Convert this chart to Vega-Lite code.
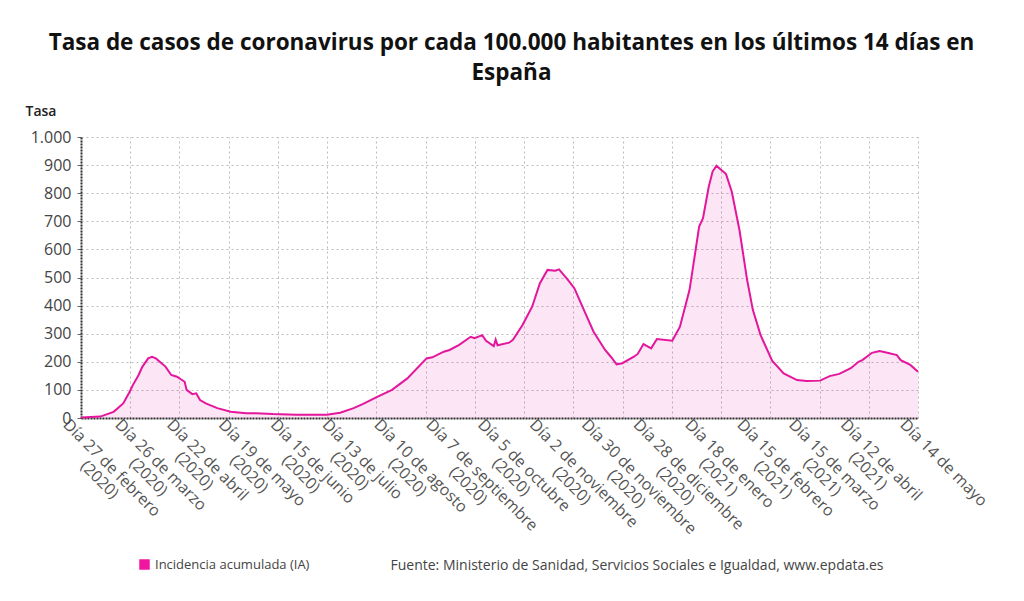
{
  "$schema": "https://vega.github.io/schema/vega-lite/v6.json",
  "width": 837,
  "height": 281,
  "autosize": {"type": "none"},
  "padding": {"left": 81, "top": 137, "right": 106, "bottom": 183},
  "background": "white",
  "config": {"view": {"stroke": null}, "font": "Open Sans", "axisY": {"labelOverlap": false}},
  "title": {
    "text": ["Tasa de casos de coronavirus por cada 100.000 habitantes en los últimos 14 días en", "España"],
    "font": "Open Sans", "fontSize": 22.5, "fontWeight": "bold", "color": "#111",
    "lineHeight": 30, "anchor": "middle", "frame": "group", "dx": 12, "offset": 20
  },
  "data": {"values": [
    {"n":0,"ia":2},{"n":10,"ia":5},{"n":17,"ia":22},{"n":22,"ia":52},{"n":25,"ia":89},{"n":27,"ia":117},{"n":30,"ia":153},{"n":32,"ia":183},{"n":35,"ia":212},{"n":37,"ia":218},{"n":39,"ia":212},{"n":44,"ia":183},{"n":47,"ia":153},{"n":50,"ia":147},{"n":52,"ia":138},{"n":54,"ia":129},{"n":55,"ia":100},{"n":58,"ia":85},{"n":60,"ia":88},{"n":62,"ia":64},{"n":65,"ia":52},{"n":71,"ia":35},{"n":78,"ia":22},{"n":86,"ia":17},{"n":91,"ia":17},{"n":100,"ia":14},{"n":112,"ia":12},{"n":128,"ia":12},{"n":135,"ia":19},{"n":142,"ia":35},{"n":147,"ia":50},{"n":154,"ia":74},{"n":162,"ia":100},{"n":170,"ia":141},{"n":180,"ia":212},{"n":183,"ia":216},{"n":189,"ia":236},{"n":192,"ia":242},{"n":197,"ia":260},{"n":203,"ia":289},{"n":205,"ia":284},{"n":209,"ia":295},{"n":211,"ia":275},{"n":215,"ia":256},{"n":216,"ia":279},{"n":217,"ia":259},{"n":223,"ia":268},{"n":225,"ia":278},{"n":230,"ia":331},{"n":235,"ia":396},{"n":239,"ia":479},{"n":243,"ia":527},{"n":247,"ia":524},{"n":249,"ia":529},{"n":253,"ia":497},{"n":257,"ia":462},{"n":262,"ia":384},{"n":267,"ia":307},{"n":273,"ia":242},{"n":276,"ia":218},{"n":279,"ia":191},{"n":282,"ia":195},{"n":288,"ia":218},{"n":290,"ia":228},{"n":293,"ia":263},{"n":297,"ia":248},{"n":300,"ia":281},{"n":308,"ia":275},{"n":312,"ia":325},{"n":317,"ia":456},{"n":322,"ia":681},{"n":324,"ia":711},{"n":327,"ia":823},{"n":329,"ia":877},{"n":331,"ia":898},{"n":336,"ia":868},{"n":339,"ia":805},{"n":343,"ia":669},{"n":347,"ia":491},{"n":350,"ia":384},{"n":354,"ia":295},{"n":360,"ia":204},{"n":366,"ia":159},{"n":373,"ia":135},{"n":378,"ia":132},{"n":385,"ia":133},{"n":390,"ia":149},{"n":395,"ia":157},{"n":401,"ia":177},{"n":405,"ia":200},{"n":407,"ia":206},{"n":412,"ia":232},{"n":416,"ia":238},{"n":420,"ia":232},{"n":425,"ia":224},{"n":427,"ia":206},{"n":432,"ia":189},{"n":436,"ia":165}
  ]},
  "resolve": {"axis": {"x": "independent"}},
  "layer": [
    {
      "mark": {"type": "area", "fill": "#e6149b", "fillOpacity": 0.11, "interpolate": "linear"},
      "encoding": {
        "x": {
          "field": "n", "type": "quantitative",
          "scale": {"domain": [0, 436], "nice": false, "zero": false},
          "axis": {
            "orient": "bottom",
            "values": [0, 27, 54, 81, 108, 135, 162, 189, 216, 243, 270, 297, 324, 351, 378, 405, 436],
            "labelExpr": "datum.value > 430 ? 'Día 14 de mayo' : [['Día 27 de febrero', '\u200b\u00a0\u00a0\u00a0\u00a0\u00a0\u00a0\u00a0\u00a0\u00a0\u00a0(2020)'], ['Día 26 de marzo', '\u200b\u00a0\u00a0\u00a0\u00a0\u00a0\u00a0\u00a0\u00a0\u00a0(2020)'], ['Día 22 de abril', '\u200b\u00a0\u00a0\u00a0\u00a0\u00a0\u00a0\u00a0(2020)'], ['Día 19 de mayo', '\u200b\u00a0\u00a0\u00a0\u00a0\u00a0\u00a0\u00a0\u00a0(2020)'], ['Día 15 de junio', '\u200b\u00a0\u00a0\u00a0\u00a0\u00a0\u00a0\u00a0\u00a0(2020)'], ['Día 13 de julio', '\u200b\u00a0\u00a0\u00a0\u00a0\u00a0\u00a0\u00a0(2020)'], ['Día 10 de agosto', '\u200b\u00a0\u00a0\u00a0\u00a0\u00a0\u00a0\u00a0\u00a0\u00a0(2020)'], ['Día 7 de septiembre', '\u200b\u00a0\u00a0\u00a0\u00a0\u00a0\u00a0\u00a0\u00a0\u00a0\u00a0\u00a0\u00a0(2020)'], ['Día 5 de octubre', '\u200b\u00a0\u00a0\u00a0\u00a0\u00a0\u00a0\u00a0\u00a0\u00a0(2020)'], ['Día 2 de noviembre', '\u200b\u00a0\u00a0\u00a0\u00a0\u00a0\u00a0\u00a0\u00a0\u00a0\u00a0\u00a0\u00a0(2020)'], ['Día 30 de noviembre', '\u200b\u00a0\u00a0\u00a0\u00a0\u00a0\u00a0\u00a0\u00a0\u00a0\u00a0\u00a0\u00a0\u00a0(2020)'], ['Día 28 de diciembre', '\u200b\u00a0\u00a0\u00a0\u00a0\u00a0\u00a0\u00a0\u00a0\u00a0\u00a0\u00a0\u00a0(2020)'], ['Día 18 de enero', '\u200b\u00a0\u00a0\u00a0\u00a0\u00a0\u00a0\u00a0\u00a0\u00a0(2021)'], ['Día 15 de febrero', '\u200b\u00a0\u00a0\u00a0\u00a0\u00a0\u00a0\u00a0\u00a0\u00a0\u00a0(2021)'], ['Día 15 de marzo', '\u200b\u00a0\u00a0\u00a0\u00a0\u00a0\u00a0\u00a0\u00a0\u00a0(2021)'], ['Día 12 de abril', '\u200b\u00a0\u00a0\u00a0\u00a0\u00a0\u00a0\u00a0(2021)']][round(datum.value / 27)]",
            "labelAngle": 45, "labelAlign": "left", "labelBaseline": "top",
            "labelOffset": -10, "labelPadding": -2, "labelFontSize": 16, "labelColor": "#555",
            "labelFont": "Open Sans", "labelLineHeight": 17, "labelOverlap": false, "labelFlush": false, "labelBound": false, "labelLimit": 400,
            "ticks": false, "grid": false,
            "domain": true, "domainColor": "#333", "domainDash": [2, 1], "domainWidth": 2,
            "title": "Fuente: Ministerio de Sanidad, Servicios Sociales e Igualdad, www.epdata.es",
            "titleX": 309, "titleY": 147, "titleAlign": "left", "titleBaseline": "middle",
            "titleFont": "Open Sans", "titleFontSize": 14, "titleFontWeight": "normal", "titleColor": "#444", "titleLimit": 700
          }
        },
        "y": {
          "field": "ia", "type": "quantitative",
          "scale": {"domain": [0, 1000], "nice": false},
          "axis": {
            "values": [0, 100, 200, 300, 400, 500, 600, 700, 800, 900, 1000],
            "labelExpr": "replace(format(datum.value, ','), ',', '.')",
            "labelFontSize": 16, "labelColor": "#444", "labelFont": "Open Sans", "labelPadding": 6,
            "labelOverlap": false, "labelFlush": false,
            "ticks": true, "tickSize": 4, "tickColor": "#666",
            "grid": true, "gridColor": "#bbb", "gridDash": [2, 3], "gridWidth": 1,
            "domain": true, "domainColor": "#333", "domainDash": [2, 1], "domainWidth": 2,
            "title": "Tasa", "titleAngle": 0, "titleX": -56, "titleY": -22, "titleAlign": "left",
            "titleBaseline": "alphabetic", "titleFont": "Open Sans", "titleFontSize": 14,
            "titleFontWeight": 600, "titleColor": "#222"
          }
        }
      }
    },
    {
      "mark": {"type": "line", "strokeWidth": 2, "interpolate": "linear"},
      "encoding": {
        "x": {
          "field": "n", "type": "quantitative",
          "axis": {
            "orient": "top",
            "values": [0, 25.65, 51.29, 76.94, 102.59, 128.24, 153.88, 179.53, 205.18, 230.82, 256.47, 282.12, 307.76, 333.41, 359.06, 384.71, 410.35, 436],
            "labels": false, "ticks": false, "domain": false, "title": null,
            "grid": true, "gridColor": "#bbb", "gridDash": [2, 3], "gridWidth": 1
          }
        },
        "y": {
          "field": "ia", "type": "quantitative",
          "axis": {
            "values": [0, 100, 200, 300, 400, 500, 600, 700, 800, 900, 1000],
            "labelExpr": "replace(format(datum.value, ','), ',', '.')",
            "labelFontSize": 16, "labelColor": "#444", "labelFont": "Open Sans", "labelPadding": 6,
            "labelOverlap": false, "labelFlush": false,
            "ticks": true, "tickSize": 4, "tickColor": "#666",
            "grid": true, "gridColor": "#bbb", "gridDash": [2, 3], "gridWidth": 1,
            "domain": true, "domainColor": "#333", "domainDash": [2, 1], "domainWidth": 2,
            "title": "Tasa", "titleAngle": 0, "titleX": -56, "titleY": -22, "titleAlign": "left",
            "titleBaseline": "alphabetic", "titleFont": "Open Sans", "titleFontSize": 14,
            "titleFontWeight": 600, "titleColor": "#222"
          }
        },
        "color": {
          "datum": "Incidencia acumulada (IA)",
          "scale": {"range": ["#e3169c"]},
          "legend": {
            "orient": "none", "legendX": 57, "legendY": 421, "title": null,
            "symbolType": "square", "symbolSize": 110, "labelLimit": 400,
            "labelFont": "Open Sans", "labelFontSize": 13, "labelColor": "#444",
            "encode": {"symbols": {"update": {"fill": {"value": "#f0169f"}, "stroke": {"value": "#f0169f"}, "strokeWidth": {"value": 0}}}}
          }
        }
      }
    }
  ]
}
